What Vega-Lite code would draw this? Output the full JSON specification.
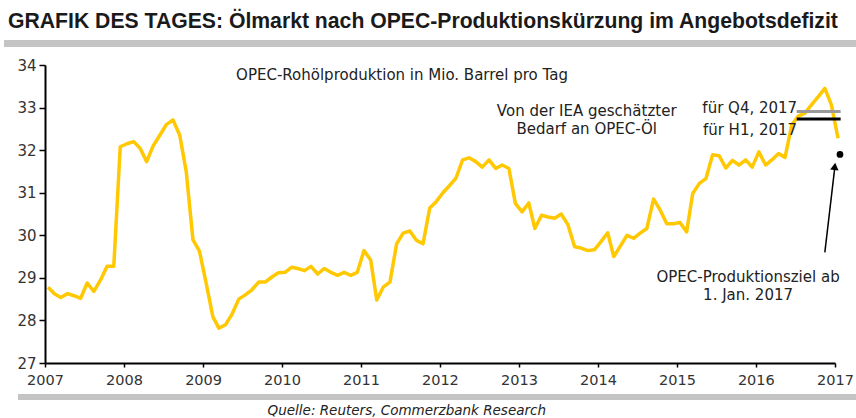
{
  "$schema": "https://vega.github.io/schema/vega-lite/v6.json",
  "width": 790,
  "height": 298,
  "autosize": {"type": "none"},
  "padding": {"left": 45, "top": 65, "right": 21, "bottom": 55},
  "background": "white",
  "config": {"view": {"stroke": null}},
  "title": {
    "text": "GRAFIK DES TAGES: Ölmarkt nach OPEC-Produktionskürzung im Angebotsdefizit",
    "anchor": "start",
    "frame": "group",
    "dx": -37,
    "offset": 9,
    "font": "Liberation Sans",
    "fontSize": 21.2,
    "fontWeight": "bold",
    "color": "#1a1a1a"
  },
  "datasets": {
    "series": [
      {"date": "2007-01-15", "value": 28.78}, {"date": "2007-02-15", "value": 28.62}, {"date": "2007-03-15", "value": 28.54},
      {"date": "2007-04-15", "value": 28.63}, {"date": "2007-05-15", "value": 28.58}, {"date": "2007-06-15", "value": 28.52},
      {"date": "2007-07-15", "value": 28.88}, {"date": "2007-08-15", "value": 28.68}, {"date": "2007-09-15", "value": 28.95},
      {"date": "2007-10-15", "value": 29.27}, {"date": "2007-11-15", "value": 29.27}, {"date": "2007-12-15", "value": 32.08},
      {"date": "2008-01-15", "value": 32.15}, {"date": "2008-02-15", "value": 32.2}, {"date": "2008-03-15", "value": 32.05},
      {"date": "2008-04-15", "value": 31.73}, {"date": "2008-05-15", "value": 32.1}, {"date": "2008-06-15", "value": 32.35},
      {"date": "2008-07-15", "value": 32.6}, {"date": "2008-08-15", "value": 32.71}, {"date": "2008-09-15", "value": 32.35},
      {"date": "2008-10-15", "value": 31.5}, {"date": "2008-11-15", "value": 29.9}, {"date": "2008-12-15", "value": 29.63},
      {"date": "2009-01-15", "value": 28.88}, {"date": "2009-02-15", "value": 28.09}, {"date": "2009-03-15", "value": 27.82},
      {"date": "2009-04-15", "value": 27.9}, {"date": "2009-05-15", "value": 28.15}, {"date": "2009-06-15", "value": 28.5},
      {"date": "2009-07-15", "value": 28.6}, {"date": "2009-08-15", "value": 28.72}, {"date": "2009-09-15", "value": 28.9},
      {"date": "2009-10-15", "value": 28.9}, {"date": "2009-11-15", "value": 29.02}, {"date": "2009-12-15", "value": 29.12},
      {"date": "2010-01-15", "value": 29.13}, {"date": "2010-02-15", "value": 29.25}, {"date": "2010-03-15", "value": 29.22},
      {"date": "2010-04-15", "value": 29.17}, {"date": "2010-05-15", "value": 29.27}, {"date": "2010-06-15", "value": 29.09},
      {"date": "2010-07-15", "value": 29.22}, {"date": "2010-08-15", "value": 29.13}, {"date": "2010-09-15", "value": 29.06},
      {"date": "2010-10-15", "value": 29.13}, {"date": "2010-11-15", "value": 29.06}, {"date": "2010-12-15", "value": 29.13},
      {"date": "2011-01-15", "value": 29.64}, {"date": "2011-02-15", "value": 29.42}, {"date": "2011-03-15", "value": 28.48},
      {"date": "2011-04-15", "value": 28.79}, {"date": "2011-05-15", "value": 28.9}, {"date": "2011-06-15", "value": 29.8},
      {"date": "2011-07-15", "value": 30.05}, {"date": "2011-08-15", "value": 30.1}, {"date": "2011-09-15", "value": 29.88},
      {"date": "2011-10-15", "value": 29.8}, {"date": "2011-11-15", "value": 30.64}, {"date": "2011-12-15", "value": 30.79},
      {"date": "2012-01-15", "value": 31.0}, {"date": "2012-02-15", "value": 31.17}, {"date": "2012-03-15", "value": 31.34},
      {"date": "2012-04-15", "value": 31.77}, {"date": "2012-05-15", "value": 31.82}, {"date": "2012-06-15", "value": 31.73},
      {"date": "2012-07-15", "value": 31.6}, {"date": "2012-08-15", "value": 31.77}, {"date": "2012-09-15", "value": 31.57},
      {"date": "2012-10-15", "value": 31.65}, {"date": "2012-11-15", "value": 31.57}, {"date": "2012-12-15", "value": 30.75},
      {"date": "2013-01-15", "value": 30.55}, {"date": "2013-02-15", "value": 30.76}, {"date": "2013-03-15", "value": 30.16},
      {"date": "2013-04-15", "value": 30.47}, {"date": "2013-05-15", "value": 30.43}, {"date": "2013-06-15", "value": 30.4},
      {"date": "2013-07-15", "value": 30.5}, {"date": "2013-08-15", "value": 30.25}, {"date": "2013-09-15", "value": 29.73},
      {"date": "2013-10-15", "value": 29.7}, {"date": "2013-11-15", "value": 29.64}, {"date": "2013-12-15", "value": 29.66},
      {"date": "2014-01-15", "value": 29.85}, {"date": "2014-02-15", "value": 30.06}, {"date": "2014-03-15", "value": 29.5},
      {"date": "2014-04-15", "value": 29.75}, {"date": "2014-05-15", "value": 30.0}, {"date": "2014-06-15", "value": 29.93},
      {"date": "2014-07-15", "value": 30.05}, {"date": "2014-08-15", "value": 30.16}, {"date": "2014-09-15", "value": 30.85},
      {"date": "2014-10-15", "value": 30.6}, {"date": "2014-11-15", "value": 30.27}, {"date": "2014-12-15", "value": 30.27},
      {"date": "2015-01-15", "value": 30.3}, {"date": "2015-02-15", "value": 30.08}, {"date": "2015-03-15", "value": 30.98},
      {"date": "2015-04-15", "value": 31.22}, {"date": "2015-05-15", "value": 31.33}, {"date": "2015-06-15", "value": 31.89},
      {"date": "2015-07-15", "value": 31.87}, {"date": "2015-08-15", "value": 31.58}, {"date": "2015-09-15", "value": 31.76},
      {"date": "2015-10-15", "value": 31.65}, {"date": "2015-11-15", "value": 31.77}, {"date": "2015-12-15", "value": 31.6},
      {"date": "2016-01-15", "value": 31.96}, {"date": "2016-02-15", "value": 31.65}, {"date": "2016-03-15", "value": 31.77},
      {"date": "2016-04-15", "value": 31.92}, {"date": "2016-05-15", "value": 31.83}, {"date": "2016-06-15", "value": 32.59},
      {"date": "2016-07-15", "value": 32.8}, {"date": "2016-08-15", "value": 32.87}, {"date": "2016-09-15", "value": 33.07},
      {"date": "2016-10-15", "value": 33.25}, {"date": "2016-11-15", "value": 33.45}, {"date": "2016-12-15", "value": 33.07},
      {"date": "2017-01-15", "value": 32.28}
    ],
    "refs": [
      {"start": "2016-07-08", "end": "2017-01-27", "value": 32.91, "label": "Q4 2017"},
      {"start": "2016-07-08", "end": "2017-01-27", "value": 32.73, "label": "H1 2017"}
    ],
    "target": [{"date": "2017-01-24", "value": 31.9}],
    "arrow": [{"date": "2016-11-15", "value": 29.6, "date2": "2016-12-30", "value2": 31.55}],
    "arrowhead": [{"date": "2016-12-31", "value": 31.62}],
    "notes": [
      {"date": "2011-07-10", "value": 33.77, "text": "OPEC-Rohölproduktion in Mio. Barrel pro Tag"},
      {"date": "2013-11-10", "value": 32.92, "text": "Von der IEA geschätzter"},
      {"date": "2013-11-10", "value": 32.5, "text": "Bedarf an OPEC-Öl"},
      {"date": "2015-11-26", "value": 29.02, "text": "OPEC-Produktionsziel ab"},
      {"date": "2015-11-26", "value": 28.6, "text": "1. Jan. 2017"}
    ],
    "refnotes": [
      {"date": "2016-07-10", "value": 32.99, "text": "für Q4, 2017"},
      {"date": "2016-07-10", "value": 32.47, "text": "für H1, 2017"}
    ],
    "source": [{"date": "2011-08-01", "value": 25.88, "text": "Quelle: Reuters, Commerzbank Research"}]
  },
  "layer": [
    {
      "data": {"name": "series"},
      "mark": {"type": "rule", "color": "#c4c4c4", "strokeWidth": 6, "clip": false},
      "encoding": {
        "x": {"datum": {"year": 2006, "month": 6, "date": 28}, "type": "temporal"},
        "x2": {"datum": {"year": 2017, "month": 4, "date": 10}},
        "y": {"datum": 34.5, "type": "quantitative"}
      }
    },
    {
      "data": {"name": "series"},
      "mark": {"type": "rule", "color": "#c4c4c4", "strokeWidth": 5, "clip": false},
      "encoding": {
        "x": {"datum": {"year": 2006, "month": 9, "date": 1}, "type": "temporal"},
        "x2": {"datum": {"year": 2017, "month": 4, "date": 10}},
        "y": {"datum": 26.2, "type": "quantitative"}
      }
    },
    {
      "data": {"name": "series"},
      "mark": {"type": "line", "color": "#FFC800", "strokeWidth": 3.5, "clip": false, "strokeJoin": "round"},
      "encoding": {
        "x": {
          "field": "date", "type": "temporal",
          "scale": {"domain": [{"year": 2007, "month": 1, "date": 1}, {"year": 2017, "month": 1, "date": 1}]},
          "axis": {
            "title": null, "format": "%Y", "tickCount": {"interval": "year", "step": 1},
            "grid": false, "domainColor": "#000", "domainWidth": 2, "tickColor": "#000", "tickWidth": 1.5, "tickSize": 4,
            "labelFont": "DejaVu Sans", "labelFontSize": 14.5, "labelColor": "#333", "labelPadding": 6, "labelFlush": false
          }
        },
        "y": {
          "field": "value", "type": "quantitative",
          "scale": {"domain": [27, 34], "zero": false, "nice": false},
          "axis": {
            "title": null, "values": [27, 28, 29, 30, 31, 32, 33, 34],
            "grid": false, "domainColor": "#000", "domainWidth": 2, "tickColor": "#000", "tickWidth": 1.5, "tickSize": 6,
            "labelFont": "DejaVu Sans", "labelFontSize": 15, "labelColor": "#333", "labelPadding": 3
          }
        }
      }
    },
    {
      "data": {"name": "refs"},
      "mark": {"type": "rule", "strokeWidth": 3, "clip": false},
      "encoding": {
        "x": {"field": "start", "type": "temporal"},
        "x2": {"field": "end"},
        "y": {"field": "value", "type": "quantitative"},
        "color": {"field": "label", "type": "nominal", "scale": {"domain": ["Q4 2017", "H1 2017"], "range": ["#9a9a9a", "#000000"]}, "legend": null}
      }
    },
    {
      "data": {"name": "arrow"},
      "mark": {"type": "rule", "color": "#000", "strokeWidth": 1.5, "clip": false},
      "encoding": {
        "x": {"field": "date", "type": "temporal"},
        "x2": {"field": "date2"},
        "y": {"field": "value", "type": "quantitative"},
        "y2": {"field": "value2"}
      }
    },
    {
      "data": {"name": "arrowhead"},
      "mark": {"type": "point", "shape": "triangle-up", "filled": true, "color": "#000", "size": 70, "angle": 7, "opacity": 1, "clip": false},
      "encoding": {
        "x": {"field": "date", "type": "temporal"},
        "y": {"field": "value", "type": "quantitative"}
      }
    },
    {
      "data": {"name": "target"},
      "mark": {"type": "circle", "color": "#000", "size": 45, "opacity": 1, "clip": false},
      "encoding": {
        "x": {"field": "date", "type": "temporal"},
        "y": {"field": "value", "type": "quantitative"}
      }
    },
    {
      "data": {"name": "notes"},
      "mark": {"type": "text", "font": "DejaVu Sans", "fontSize": 15, "color": "#222", "align": "center", "baseline": "middle", "clip": false},
      "encoding": {
        "x": {"field": "date", "type": "temporal"},
        "y": {"field": "value", "type": "quantitative"},
        "text": {"field": "text"}
      }
    },
    {
      "data": {"name": "refnotes"},
      "mark": {"type": "text", "font": "DejaVu Sans", "fontSize": 15, "color": "#222", "align": "right", "baseline": "middle", "clip": false},
      "encoding": {
        "x": {"field": "date", "type": "temporal"},
        "y": {"field": "value", "type": "quantitative"},
        "text": {"field": "text"}
      }
    },
    {
      "data": {"name": "source"},
      "mark": {"type": "text", "font": "DejaVu Sans", "fontSize": 13.5, "fontStyle": "italic", "color": "#222", "align": "center", "baseline": "middle", "clip": false},
      "encoding": {
        "x": {"field": "date", "type": "temporal"},
        "y": {"field": "value", "type": "quantitative"},
        "text": {"field": "text"}
      }
    }
  ]
}
